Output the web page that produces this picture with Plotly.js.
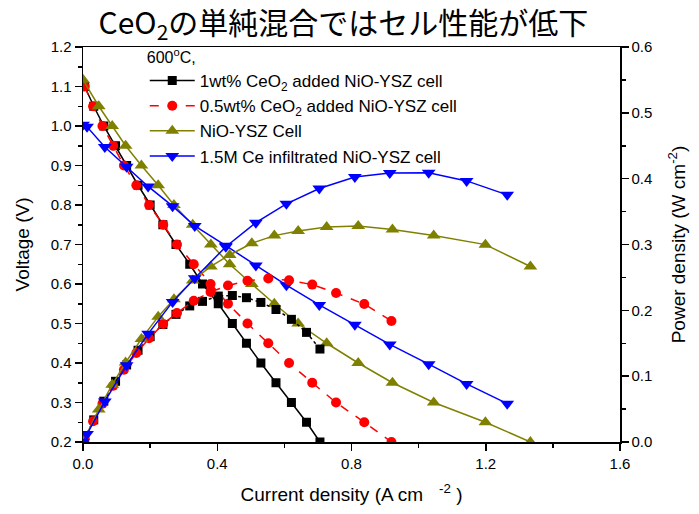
<!DOCTYPE html>
<html>
<head>
<meta charset="utf-8">
<script src="https://cdn.plot.ly/plotly-3.0.1.min.js"></script>
<style>html,body{margin:0;padding:0;background:#fff}#chart{width:699px;height:514px}</style>
</head>
<body>
<div id="chart"></div>
<script>
// ---- data ----
const seriesNames = [
  "1wt% CeO<sub>2</sub> added NiO-YSZ cell",
  "0.5wt% CeO<sub>2</sub> added NiO-YSZ cell",
  "NiO-YSZ Cell",
  "1.5M Ce infiltrated NiO-YSZ cell"
];

// 1wt% CeO2 added
const cur1 = [0.005,0.032,0.062,0.097,0.130,0.164,0.200,0.238,0.277,0.318,0.356,0.403,0.445,0.487,0.530,0.575,0.621,0.666,0.706];
const volt1 = [1.10,1.05,1.00,0.95,0.90,0.85,0.80,0.75,0.70,0.65,0.60,0.55,0.50,0.45,0.40,0.35,0.30,0.25,0.20];
const pow1 = [0.0055,0.0336,0.062,0.0922,0.117,0.1394,0.160,0.1785,0.1939,0.2067,0.2136,0.2217,0.2225,0.2192,0.212,0.2013,0.1863,0.1665,0.1412];

// 0.5wt% CeO2 added
const cur2 = [0.005,0.030,0.058,0.090,0.122,0.159,0.197,0.239,0.280,0.330,0.380,0.432,0.490,0.552,0.614,0.683,0.754,0.838,0.919];
const volt2 = [1.10,1.05,1.00,0.95,0.90,0.85,0.80,0.75,0.70,0.65,0.60,0.55,0.50,0.45,0.40,0.35,0.30,0.25,0.20];
const pow2 = [0.0055,0.0315,0.058,0.0855,0.1098,0.1352,0.1576,0.1793,0.196,0.2145,0.228,0.2376,0.245,0.2484,0.2456,0.2391,0.2262,0.2095,0.1838];

// NiO-YSZ
const cur3 = [0.000,0.047,0.087,0.127,0.174,0.224,0.271,0.327,0.381,0.437,0.503,0.570,0.641,0.726,0.820,0.922,1.045,1.199,1.333];
const volt3 = [1.117,1.05,1.00,0.95,0.90,0.85,0.80,0.75,0.70,0.65,0.60,0.55,0.50,0.45,0.40,0.35,0.30,0.25,0.20];
const pow3 = [0.000,0.0494,0.087,0.1207,0.1566,0.1904,0.2168,0.2453,0.2667,0.2841,0.3018,0.3135,0.3205,0.3267,0.328,0.3227,0.3135,0.2998,0.2666];

// 1.5M Ce infiltrated
const cur4 = [0.000,0.012,0.065,0.130,0.194,0.267,0.333,0.4255,0.515,0.606,0.704,0.810,0.914,1.030,1.143,1.264];
const volt4 = [1.003,0.998,0.947,0.897,0.847,0.797,0.747,0.697,0.647,0.597,0.547,0.497,0.447,0.397,0.347,0.297];
const pow4 = [0.000,0.012,0.0616,0.1166,0.1643,0.2128,0.2488,0.2966,0.3332,0.3618,0.3851,0.4026,0.4086,0.4089,0.3966,0.3754];

const xTicks = [0.0,0.4,0.8,1.2,1.6];

// ---- styles ----
const colors = ["#000000","#ff0000","#808000","#0000ff"];
const symbols = ["square","circle","triangle-up","triangle-down"];
const sizes = [9,10,12,12];
const vDash = ["solid","dash","solid","solid"];
const pDash = ["dot","dash","solid","solid"];

const curs = [cur1,cur2,cur3,cur4];
const volts = [volt1,volt2,volt3,volt4];
const pows = [pow1,pow2,pow3,pow4];

const traces = [];
for (let i=0;i<4;i++){
  traces.push({
    x: curs[i], y: volts[i], type:"scatter", mode:"lines+markers",
    name: seriesNames[i], legendgroup:"g"+i, showlegend:true,
    line:{color:colors[i], width:1.5, dash:vDash[i]},
    marker:{symbol:symbols[i], size:sizes[i], color:colors[i], line:{width:0}},
    xaxis:"x", yaxis:"y"
  });
}
for (let i=0;i<4;i++){
  traces.push({
    x: curs[i], y: pows[i], type:"scatter", mode:"lines+markers",
    name: seriesNames[i], legendgroup:"g"+i, showlegend:false,
    line:{color:colors[i], width:1.5, dash:pDash[i]},
    marker:{symbol:symbols[i], size:sizes[i], color:colors[i], line:{width:0}},
    xaxis:"x", yaxis:"y2"
  });
}

const sansFam = "Liberation Sans, Arial, sans-serif";
const tickFont = {family:sansFam, size:15, color:"#000"};
const titleFont = {family:sansFam, size:19, color:"#000"};

const layout = {
  width:699, height:514,
  margin:{l:83, r:79, t:47, b:72},
  paper_bgcolor:"#fff", plot_bgcolor:"#fff",
  title:{text:"CeO<sub>2</sub>の単純混合ではセル性能が低下",
    font:{family:"Noto Sans CJK JP, sans-serif", size:30, color:"#000"},
    x:0.485, xanchor:"center", xref:"paper", y:0.955, yanchor:"middle", yref:"container"},
  showlegend:true,
  legend:{x:0.115, y:1.012, xanchor:"left", yanchor:"top", bgcolor:"rgba(0,0,0,0)",
    borderwidth:0, font:{family:sansFam, size:17, color:"#000"},
    title:{text:"600<sup>o</sup>C,", font:{family:sansFam, size:16, color:"#000"}},
    itemwidth:45, tracegroupgap:0},
  xaxis:{range:[0,1.6], tickvals:xTicks, ticktext:xTicks.map(v=>v.toFixed(1)),
    showline:true, linecolor:"#000", linewidth:1.5, mirror:true,
    ticks:"outside", ticklen:7, tickwidth:1.5, tickcolor:"#000",
    minor:{tickvals:[0.2,0.6,1.0,1.4], ticks:"outside", ticklen:4, tickwidth:1.5, tickcolor:"#000"},
    showgrid:false, zeroline:false, tickfont:tickFont,
    title:{text:"Current density (A cm&nbsp;&nbsp;&nbsp;<sup>-2</sup>&nbsp;)", font:titleFont, standoff:17}},
  yaxis:{range:[0.2,1.2], dtick:0.1, tickformat:".1f",
    showline:true, linecolor:"#000", linewidth:1.5, mirror:false,
    ticks:"outside", ticklen:7, tickwidth:1.5, tickcolor:"#000",
    minor:{dtick:0.05, ticks:"outside", ticklen:4, tickwidth:1.5, tickcolor:"#000"},
    showgrid:false, zeroline:false, tickfont:tickFont,
    title:{text:"Voltage (V)", font:titleFont, standoff:16}},
  yaxis2:{range:[0,0.6], dtick:0.1, tickformat:".1f", overlaying:"y", side:"right",
    showline:true, linecolor:"#000", linewidth:1.5,
    ticks:"outside", ticklen:7, tickwidth:1.5, tickcolor:"#000",
    minor:{dtick:0.05, ticks:"outside", ticklen:4, tickwidth:1.5, tickcolor:"#000"},
    showgrid:false, zeroline:false, tickfont:tickFont,
    title:{text:"Power density (W cm<sup>-2</sup>)", font:titleFont, standoff:20}}
};

Plotly.newPlot("chart", traces, layout, {staticPlot:true, displayModeBar:false});
</script>
</body>
</html>
